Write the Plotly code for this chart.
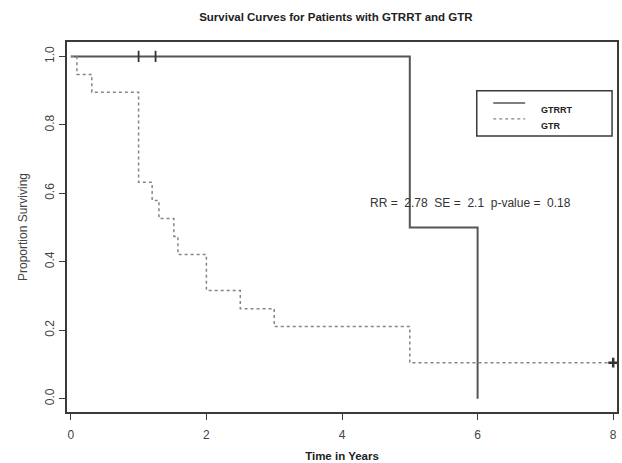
import plotly.graph_objects as go

# ---- data ----
gtrrt_time = [0.0, 5.0, 6.0]
gtrrt_surv = [1.0, 0.5, 0.0]
gtrrt_censor_time = [1.0, 1.25]
gtrrt_censor_surv = [1.0, 1.0]

gtr_time = [0.0, 0.09, 0.31, 1.0, 1.2, 1.3, 1.52, 1.58, 2.0, 2.5, 3.0, 5.0, 8.0]
gtr_surv = [1.0, 0.947, 0.895, 0.632, 0.579, 0.526, 0.474, 0.421, 0.316, 0.263, 0.211, 0.105, 0.105]
gtr_censor_time = [8.0]
gtr_censor_surv = [0.105]

x_ticks = [0, 2, 4, 6, 8]
y_ticks = [0.0, 0.2, 0.4, 0.6, 0.8, 1.0]
series_names = ["GTRRT", "GTR"]
stats_text = "RR =  2.78  SE =  2.1  p-value =  0.18"

LINE_C = "#555555"
DOT_C = "#858585"
AX_C = "#3a3a3a"
TXT_C = "#444444"

fig = go.Figure()
fig.add_trace(go.Scatter(x=gtrrt_time, y=gtrrt_surv, mode="lines", line_shape="hv",
                         line=dict(color=LINE_C, width=2), name=series_names[0], showlegend=False))
fig.add_trace(go.Scatter(x=gtrrt_censor_time, y=gtrrt_censor_surv, mode="markers",
                         marker=dict(symbol="line-ns", size=8, line=dict(color="#333333", width=1.8)),
                         showlegend=False))
fig.add_trace(go.Scatter(x=gtr_time, y=gtr_surv, mode="lines", line_shape="hv",
                         line=dict(color=DOT_C, width=1.5, dash="dot"), name=series_names[1], showlegend=False))
fig.add_trace(go.Scatter(x=gtr_censor_time, y=gtr_censor_surv, mode="markers",
                         marker=dict(symbol="cross-thin", size=7, line=dict(color="#333333", width=2.5)),
                         showlegend=False, cliponaxis=False))

fig.add_annotation(x=5.89, y=0.571, xref="x", yref="y", text=stats_text, showarrow=False,
                   font=dict(family="Liberation Sans, Arial", size=12, color="#333333"))

# manual legend box (R-style)
fig.add_shape(type="rect", xref="paper", yref="paper", x0=0.745, x1=0.991, y0=0.746, y1=0.868,
              line=dict(color=AX_C, width=1.5), fillcolor="white")
legend_rows = [0.835, 0.792]
legend_styles = [dict(color=LINE_C, width=1.5), dict(color=DOT_C, width=1.2, dash="dot")]
for name, yy, st in zip(series_names, legend_rows, legend_styles):
    fig.add_shape(type="line", xref="paper", yref="paper", x0=0.775, x1=0.833, y0=yy, y1=yy, line=st)
    fig.add_annotation(x=0.858, y=yy, xref="paper", yref="paper", text="<b>" + name + "</b>",
                       showarrow=False, xanchor="left",
                       font=dict(family="Liberation Sans, Arial", size=9, color="#222222"))

fig.update_layout(
    width=622, height=463,
    margin=dict(l=67, r=5, t=42, b=51, autoexpand=False),
    paper_bgcolor="white", plot_bgcolor="white",
    title=dict(text="<b>Survival Curves for Patients with GTRRT and GTR</b>", x=0.54, xanchor="center",
               y=1 - 17 / 463, yanchor="middle",
               font=dict(family="Liberation Sans, Arial", size=11.5, color="#222222")),
    font=dict(family="Liberation Sans, Arial", color=TXT_C),
)
fig.update_xaxes(range=[-0.056, 8.056], tickvals=x_ticks, ticktext=[str(v) for v in x_ticks],
                 showgrid=False, zeroline=False, showline=True, linecolor=AX_C, linewidth=1.5,
                 mirror=True, ticks="outside", ticklen=6, tickcolor=AX_C, tickwidth=1,
                 ticklabelstandoff=5,
                 tickfont=dict(size=12, color=TXT_C),
                 title=dict(text="<b>Time in Years</b>", standoff=11,
                            font=dict(size=11.5, color="#222222")))
fig.update_yaxes(range=[-0.039, 1.042], tickvals=y_ticks, ticktext=["%.1f" % v for v in y_ticks],
                 tickangle=-90,
                 showgrid=False, zeroline=False, showline=True, linecolor=AX_C, linewidth=1.5,
                 mirror=True, ticks="outside", ticklen=6, tickcolor=AX_C, tickwidth=1,
                 tickfont=dict(size=12, color=TXT_C),
                 title=dict(text="Proportion Surviving", standoff=13,
                            font=dict(size=12, color=TXT_C)))

fig.write_html("out.html", config={"displayModeBar": False},
               post_script="document.body.style.margin='0';")
